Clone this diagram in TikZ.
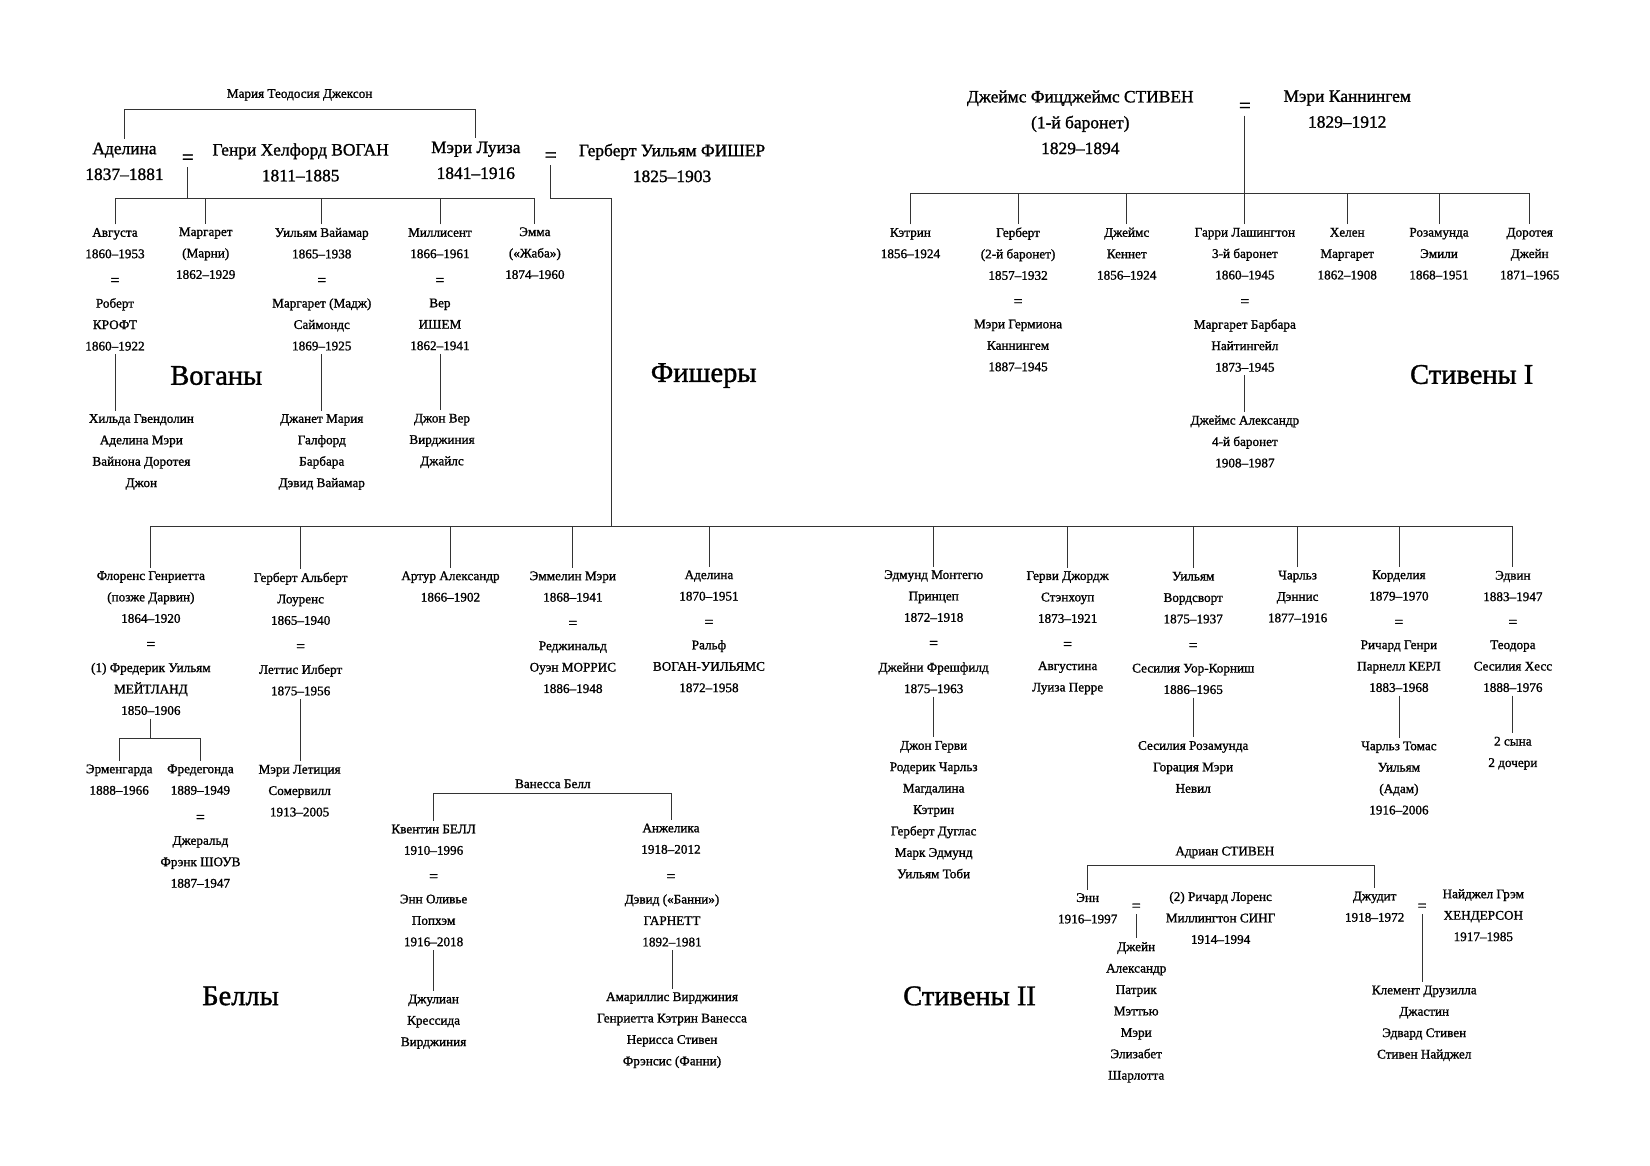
\documentclass[tikz,border=0pt]{standalone}
\usepackage{fontspec}
\setmainfont{Liberation Serif}[FakeBold=1.2]
\begin{document}
\begin{tikzpicture}[x=1pt,y=-1pt]
\tikzset{
 sm/.style={font=\fontsize{12.5}{20.3}\selectfont, align=center, inner sep=0pt, outer sep=3.5pt},
 lg/.style={font=\fontsize{16.5}{24.5}\selectfont, align=center, inner sep=0pt, outer sep=3.5pt},
 eqsm/.style={font=\fontsize{15}{18}\selectfont, inner sep=0pt, outer sep=3pt},
 eqlg/.style={font=\fontsize{20}{24}\selectfont, inner sep=0pt, outer sep=3pt},
 ttl/.style={font=\fontsize{27}{30}\selectfont, inner sep=0pt},
 ln/.style={draw=black!80, line width=0.8pt}
}
\useasboundingbox[fill=white] (0,0) rectangle (1564,1105);

% ---------------- Vogan ----------------
\node[sm] (mariaJ) at (284,90) {Мария Теодосия Джексон};
\node[lg] (adelinaV) at (118,153) {Аделина\\1837–1881};
\node[eqlg] (eqVW) at (178,151) {=};
\node[lg] (henry) at (285,154) {Генри Хелфорд ВОГАН\\1811–1885};
\node[lg] (maryL) at (451,152) {Мэри Луиза\\1841–1916};
\node[eqlg] (eqMF) at (522,149) {=};
\node[lg] (herbertF) at (637,154.5) {Герберт Уильям ФИШЕР\\1825–1903};

\node[sm] (avg) at (109,230.5) {Августа\\1860–1953};
\node[eqsm] (eqAvg) at (109,267) {=};
\node[sm] (croft) at (109,307.5) {Роберт\\КРОФТ\\1860–1922};
\node[sm] (hildaK) at (134,428.5) {Хильда Гвендолин\\Аделина Мэри\\Вайнона Доротея\\Джон};
\node[sm] (margM) at (195,240) {Маргарет\\(Марни)\\1862–1929};
\node[sm] (willV) at (305,230.5) {Уильям Вайамар\\1865–1938};
\node[eqsm] (eqWV) at (305,267) {=};
\node[sm] (madge) at (305,307.5) {Маргарет (Мадж)\\Саймондс\\1869–1925};
\node[sm] (janetK) at (305,428.5) {Джанет Мария\\Галфорд\\Барбара\\Дэвид Вайамар};
\node[sm] (mill) at (417,230.5) {Миллисент\\1866–1961};
\node[eqsm] (eqMI) at (417,267) {=};
\node[sm] (isham) at (417,307.5) {Вер\\ИШЕМ\\1862–1941};
\node[sm] (johnV) at (419,418) {Джон Вер\\Вирджиния\\Джайлс};
\node[sm] (emma) at (507,240) {Эмма\\(«Жаба»)\\1874–1960};

\node[ttl] (tVog) at (205,356) {Воганы};
\node[ttl] (tFis) at (667,356) {Фишеры};

% ---------------- Stephen I ----------------
\node[lg] (jfs) at (1024,116) {Джеймс Фицджеймс СТИВЕН\\(1-й баронет)\\1829–1894};
\node[eqlg] (eqS) at (1180,102) {=};
\node[lg] (maryC) at (1277,103.5) {Мэри Каннингем\\1829–1912};

\node[sm] (katrin) at (863,230.5) {Кэтрин\\1856–1924};
\node[sm] (herbS) at (965,240.5) {Герберт\\(2-й баронет)\\1857–1932};
\node[eqsm] (eqHS) at (965,287) {=};
\node[sm] (hermione) at (965,327.5) {Мэри Гермиона\\Каннингем\\1887–1945};
\node[sm] (jamesK) at (1068,240.5) {Джеймс\\Кеннет\\1856–1924};
\node[sm] (harry) at (1180,240.5) {Гарри Лашингтон\\3-й баронет\\1860–1945};
\node[eqsm] (eqHL) at (1180,287) {=};
\node[sm] (nighting) at (1180,327.5) {Маргарет Барбара\\Найтингейл\\1873–1945};
\node[sm] (jamesA) at (1180,418.5) {Джеймс Александр\\4-й баронет\\1908–1987};
\node[sm] (helen) at (1277,240.5) {Хелен\\Маргарет\\1862–1908};
\node[sm] (rosam) at (1364,240.5) {Розамунда\\Эмили\\1868–1951};
\node[sm] (doroth) at (1450,240.5) {Доротея\\Джейн\\1871–1965};

\node[ttl] (tSt1) at (1395,355) {Стивены I};

% ---------------- Fisher children ----------------
\node[sm] (florens) at (143,566) {Флоренс Генриетта\\(позже Дарвин)\\1864–1920};
\node[eqsm] (eqFM) at (143,612) {=};
\node[sm] (maitland) at (143,653) {(1) Фредерик Уильям\\МЕЙТЛАНД\\1850–1906};
\node[sm] (ermen) at (113,739) {Эрменгарда\\1888–1966};
\node[sm] (fredeg) at (190,739) {Фредегонда\\1889–1949};
\node[eqsm] (eqFS) at (190,776) {=};
\node[sm] (shove) at (190,817) {Джеральд\\Фрэнк ШОУВ\\1887–1947};
\node[sm] (herbA) at (285,567.5) {Герберт Альберт\\Лоуренс\\1865–1940};
\node[eqsm] (eqHA) at (285,614) {=};
\node[sm] (lettice) at (285,644.5) {Леттис Илберт\\1875–1956};
\node[sm] (maryLS) at (284,749.5) {Мэри Летиция\\Сомервилл\\1913–2005};
\node[sm] (arthur) at (427,556) {Артур Александр\\1866–1902};
\node[sm] (emmeline) at (543,556) {Эммелин Мэри\\1868–1941};
\node[eqsm] (eqEM) at (543,592) {=};
\node[sm] (morris) at (543,632.5) {Реджинальд\\Оуэн МОРРИС\\1886–1948};
\node[sm] (adelinaF) at (672,555) {Аделина\\1870–1951};
\node[eqsm] (eqAF) at (672,591) {=};
\node[sm] (rvw) at (672,631.5) {Ральф\\ВОГАН-УИЛЬЯМС\\1872–1958};
\node[sm] (edmund) at (885,565) {Эдмунд Монтегю\\Принцеп\\1872–1918};
\node[eqsm] (eqEd) at (885,611) {=};
\node[sm] (janey) at (885,642.5) {Джейни Фрешфилд\\1875–1963};
\node[sm] (johnG) at (885,767.5) {Джон Герви\\Родерик Чарльз\\Магдалина\\Кэтрин\\Герберт Дуглас\\Марк Эдмунд\\Уильям Тоби};
\node[sm] (gervase) at (1012,566) {Герви Джордж\\Стэнхоуп\\1873–1921};
\node[eqsm] (eqGe) at (1012,612) {=};
\node[sm] (perret) at (1012,642.5) {Августина\\Луиза Перре};
\node[sm] (william) at (1131,566.5) {Уильям\\Вордсворт\\1875–1937};
\node[eqsm] (eqWi) at (1131,613) {=};
\node[sm] (cecilia) at (1131,643.5) {Сесилия Уор-Корниш\\1886–1965};
\node[sm] (cecR) at (1131,727) {Сесилия Розамунда\\Горация Мэри\\Невил};
\node[sm] (charles) at (1230,565.5) {Чарльз\\Дэннис\\1877–1916};
\node[sm] (cordelia) at (1326,555) {Корделия\\1879–1970};
\node[eqsm] (eqCo) at (1326,591) {=};
\node[sm] (kerl) at (1326,631.5) {Ричард Генри\\Парнелл КЕРЛ\\1883–1968};
\node[sm] (charlesT) at (1326,737.5) {Чарльз Томас\\Уильям\\(Адам)\\1916–2006};
\node[sm] (edwin) at (1434,555.5) {Эдвин\\1883–1947};
\node[eqsm] (eqEdw) at (1434,591) {=};
\node[sm] (hess) at (1434,631.5) {Теодора\\Сесилия Хесс\\1888–1976};
\node[sm] (sons) at (1434,714) {2 сына\\2 дочери};

% ---------------- Bells ----------------
\node[sm] (vanessa) at (524,743) {Ванесса Белл};
\node[sm] (quentin) at (411,796) {Квентин БЕЛЛ\\1910–1996};
\node[eqsm] (eqQ) at (411,832) {=};
\node[sm] (popham) at (411,872.5) {Энн Оливье\\Попхэм\\1916–2018};
\node[sm] (julian) at (411,968.5) {Джулиан\\Крессида\\Вирджиния};
\node[sm] (angel) at (636,795) {Анжелика\\1918–2012};
\node[eqsm] (eqAn) at (636,832) {=};
\node[sm] (garnett) at (637,872.5) {Дэвид («Банни»)\\ГАРНЕТТ\\1892–1981};
\node[sm] (amar) at (637,976.5) {Амариллис Вирджиния\\Генриетта Кэтрин Ванесса\\Нерисса Стивен\\Фрэнсис (Фанни)};
\node[ttl] (tBel) at (228,944) {Беллы};

% ---------------- Stephen II ----------------
\node[sm] (adrian) at (1161,808) {Адриан СТИВЕН};
\node[sm] (ann) at (1031,861) {Энн\\1916–1997};
\node[eqsm] (eqAnn) at (1077,860) {=};
\node[sm] (synge) at (1157,870) {(2) Ричард Лоренс\\Миллингтон СИНГ\\1914–1994};
\node[sm] (janeK) at (1077,959.5) {Джейн\\Александр\\Патрик\\Мэттью\\Мэри\\Элизабет\\Шарлотта};
\node[sm] (judith) at (1303,859.5) {Джудит\\1918–1972};
\node[eqsm] (eqJu) at (1348,860) {=};
\node[sm] (hend) at (1406,867.5) {Найджел Грэм\\ХЕНДЕРСОН\\1917–1985};
\node[sm] (clement) at (1350,970) {Клемент Друзилла\\Джастин\\Эдвард Стивен\\Стивен Найджел};
\node[ttl] (tSt2) at (919,944) {Стивены II};

% ---------------- connectors ----------------
\coordinate (barM) at (284,104);
\draw[ln] (adelinaV.north) |- (barM) -| (maryL.north);

\coordinate (vkid) at (178,188);
\draw[ln] (eqVW.south) -- (vkid);
\draw[ln] (avg.north) |- (vkid) -| (emma.north);
\foreach \n in {margM,willV,mill} \draw[ln] (\n.north) -- (\n.north |- vkid);
\draw[ln] (croft.south) -- (croft.south |- hildaK.north);
\draw[ln] (madge.south) -- (madge.south |- janetK.north);
\draw[ln] (isham.south) -- (isham.south |- johnV.north);

\coordinate (fk1) at (580,188);
\coordinate (fbar) at (580,499);
\draw[ln] (eqMF.south) |- (fk1) -- (fbar);
\draw[ln] (florens.north) |- (fbar) -| (edwin.north);
\foreach \n in {herbA,arthur,emmeline,adelinaF,edmund,gervase,william,charles,cordelia}
  \draw[ln] (\n.north) -- (\n.north |- fbar);

\coordinate (sbar) at (1180,183);
\draw[ln] (eqS.south) -- (sbar);
\draw[ln] (katrin.north) |- (sbar) -| (doroth.north);
\foreach \n in {herbS,jamesK,harry,helen,rosam} \draw[ln] (\n.north) -- (\n.north |- sbar);
\draw[ln] (nighting.south) -- (nighting.south |- jamesA.north);

\coordinate (mbar) at (143,700);
\draw[ln] (maitland.south) -- (mbar);
\draw[ln] (ermen.north) |- (mbar) -| (fredeg.north);
\draw[ln] (lettice.south) -- (lettice.south |- maryLS.north);
\draw[ln] (janey.south) -- (janey.south |- johnG.north);
\draw[ln] (cecilia.south) -- (cecilia.south |- cecR.north);
\draw[ln] (kerl.south) -- (kerl.south |- charlesT.north);
\draw[ln] (hess.south) -- (hess.south |- sons.north);

\coordinate (vbar) at (524,752);
\draw[ln] (quentin.north) |- (vbar) -| (angel.north);
\draw[ln] (popham.south) -- (popham.south |- julian.north);
\draw[ln] (garnett.south) -- (garnett.south |- amar.north);

\coordinate (abar) at (1161,820);
\draw[ln] (ann.north) |- (abar) -| (judith.north);
\draw[ln] (eqAnn.south) -- (eqAnn.south |- janeK.north);
\draw[ln] (eqJu.south) -- (eqJu.south |- clement.north);
\end{tikzpicture}
\end{document}
